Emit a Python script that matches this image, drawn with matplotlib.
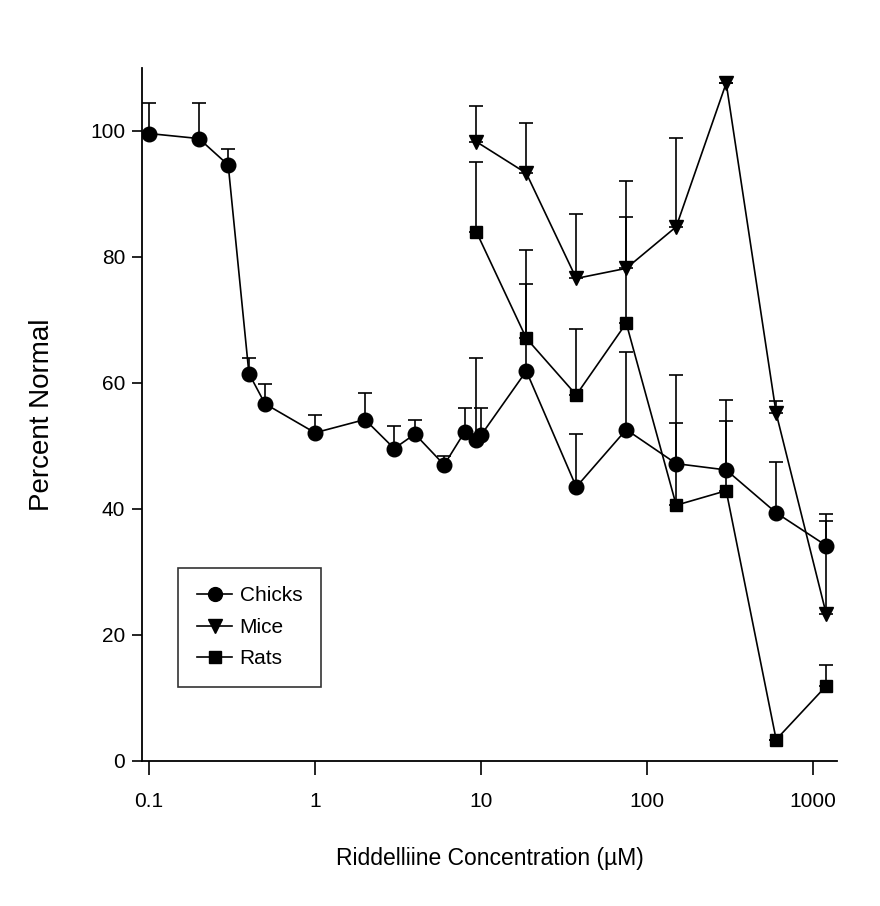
import matplotlib
matplotlib.use("Agg")
import matplotlib.pyplot as plt
from matplotlib.lines import Line2D
import numpy as np

plt.rcParams['font.family'] = ['Liberation Sans', 'DejaVu Sans']

# ---- data ----
chick_x = [0.1, 0.2, 0.3, 0.4, 0.5, 1, 2, 3, 4, 6, 8, 9.375, 10, 18.75, 37.5, 75, 150, 300, 600, 1200]
chick_y = [99.6, 98.8, 94.6, 61.5, 56.7, 52.1, 54.2, 49.6, 51.9, 47.0, 52.3, 50.9, 51.7, 61.9, 43.5, 52.6, 47.2, 46.2, 39.4, 34.2]
chick_top = [104.4, 104.4, 97.1, 63.9, 59.8, 54.9, 58.4, 53.1, 54.1, 48.4, 56.0, 64.0, 56.0, 75.7, 51.9, 65.0, 53.7, 54.0, 47.5, 38.1]

mice_x = [9.375, 18.75, 37.5, 75, 150, 300, 600, 1200]
mice_y = [98.3, 93.3, 76.6, 78.2, 84.8, 107.6, 55.2, 23.4]
mice_top = [103.9, 101.2, 86.8, 92.1, 98.9, 107.6, 57.2, 39.2]

rats_x = [9.375, 18.75, 37.5, 75, 150, 300, 600, 1200]
rats_y = [84.0, 67.1, 58.1, 69.5, 40.6, 42.9, 3.4, 11.9]
rats_top = [95.1, 81.1, 68.5, 86.4, 61.3, 57.3, 3.4, 15.3]

series = [
    ("Chicks", chick_x, chick_y, chick_top, "o", 10.5),
    ("Mice", mice_x, mice_y, mice_top, "v", 10.5),
    ("Rats", rats_x, rats_y, rats_top, "s", 8.5),
]

xticks = [0.1, 1, 10, 100, 1000]
xticklabels = ["0.1", "1", "10", "100", "1000"]
yticks = [0, 20, 40, 60, 80, 100]

W, H = 880, 906
fig = plt.figure(figsize=(W / 100, H / 100), dpi=100)
ax = fig.add_axes([142 / W, (H - 761) / H, (837 - 142) / W, (761 - 68) / H])

for name, x, y, top, mk, ms in series:
    y = np.array(y)
    up = np.array(top) - y
    ax.errorbar(x, y, yerr=[np.zeros_like(up), up], fmt="none", ecolor="black",
                elinewidth=1.2, capsize=4.8, capthick=1.2, zorder=2)
    ax.plot(x, y, color="black", lw=1.2, marker=mk, ms=ms, mfc="black", mec="black", zorder=3)

ax.set_xscale("log")
ax.set_xlim(10 ** (-1 - 7 / 165.9), 10 ** (3 + 24 / 165.9))
ax.set_ylim(0, (761 - 68) / 6.3)
ax.set_xticks(xticks)
ax.set_xticklabels(xticklabels)
ax.xaxis.set_minor_locator(matplotlib.ticker.NullLocator())
ax.set_yticks(yticks)

for s in ["top", "right"]:
    ax.spines[s].set_visible(False)
for s in ["left", "bottom"]:
    ax.spines[s].set_linewidth(1.3)
ax.tick_params(axis="both", direction="out", width=1.2, labelsize=15, colors="black")
ax.tick_params(axis="y", length=7, pad=5)
ax.tick_params(axis="x", length=10, pad=12)

ax.set_xlabel("Riddelliine Concentration (\u00b5M)", fontsize=16.5, labelpad=26)
ax.set_ylabel("Percent Normal", fontsize=20, labelpad=25)

handles = [Line2D([], [], color="black", lw=1.2, marker=mk, ms=ms * 0.95, mfc="black")
           for name, x, y, top, mk, ms in series]
labels = [s[0] for s in series]
leg = ax.legend(handles, labels, loc="upper left", bbox_to_anchor=(0.052, 0.279),
                frameon=True, fancybox=False, edgecolor="black", fontsize=15,
                handlelength=1.7, labelspacing=0.6, borderpad=0.9, handletextpad=0.35,
                borderaxespad=0)
leg.get_frame().set_linewidth(1.2)

fig.savefig("out.png", dpi=100)
